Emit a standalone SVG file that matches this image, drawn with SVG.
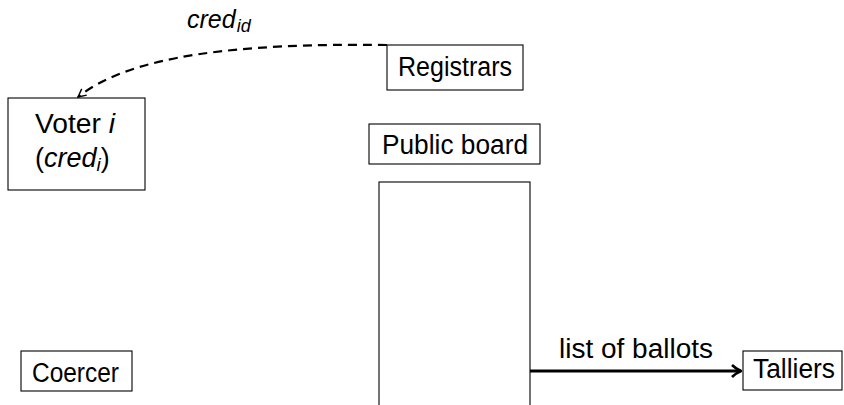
<svg xmlns="http://www.w3.org/2000/svg" width="844" height="405" viewBox="0 0 844 405">
<style>
  .box{fill:#fff;stroke:#000;stroke-width:1.1}
  text{font-family:"Liberation Sans",Arial,sans-serif;font-size:27px;fill:#000}
  .it{font-style:italic}
  .sub{font-size:19px;font-style:italic}
</style>
<defs>
  <marker id="open" viewBox="0 0 10 10" refX="9" refY="5" markerWidth="10" markerHeight="10" markerUnits="userSpaceOnUse" orient="auto">
    <path d="M1,1 L9,5 L1,9" fill="none" stroke="#000" stroke-width="1.4"/>
  </marker>
  <marker id="solid" viewBox="0 0 12 14" refX="11" refY="7" markerWidth="12" markerHeight="14" markerUnits="userSpaceOnUse" orient="auto">
    <path d="M2,1 Q6,5 11,7 Q6,9 2,13" fill="none" stroke="#000" stroke-width="2.6"/>
  </marker>
</defs>
<g id="connectors">
  <path d="M387,45 C240,43 130,55 78,97" fill="none" stroke="#000" stroke-width="2.2" stroke-dasharray="9,6" marker-end="url(#open)"/>
  <text x="187" y="28" class="it" style="font-size:25px">cred<tspan style="font-size:18px" dx="1" dy="4">id</tspan></text>
  <line x1="530" y1="371" x2="741" y2="371" stroke="#000" stroke-width="3" marker-end="url(#solid)"/>
  <text x="559" y="358" textLength="154" lengthAdjust="spacingAndGlyphs">list of ballots</text>
</g>
<g id="registrars">
  <rect class="box" x="387" y="45" width="136" height="45"/>
  <text x="398" y="76" textLength="114" lengthAdjust="spacingAndGlyphs">Registrars</text>
</g>
<g id="public-board">
  <rect class="box" x="369" y="124" width="171" height="40"/>
  <text x="382" y="154" textLength="146" lengthAdjust="spacingAndGlyphs">Public board</text>
</g>
<g id="board-column">
  <rect class="box" x="379" y="182" width="151" height="240"/>
</g>
<g id="voter">
  <rect class="box" x="8" y="98" width="137" height="92"/>
  <text x="35" y="133" textLength="80" lengthAdjust="spacingAndGlyphs">Voter <tspan class="it">i</tspan></text>
  <text x="35" y="167">(<tspan class="it">cred</tspan><tspan class="sub" dy="4">i</tspan><tspan dy="-4">)</tspan></text>
</g>
<g id="coercer">
  <rect class="box" x="21" y="351" width="111" height="40"/>
  <text x="32" y="382" textLength="87" lengthAdjust="spacingAndGlyphs">Coercer</text>
</g>
<g id="talliers">
  <rect class="box" x="743" y="351" width="99" height="39"/>
  <text x="753" y="378" textLength="82" lengthAdjust="spacingAndGlyphs">Talliers</text>
</g>
</svg>
